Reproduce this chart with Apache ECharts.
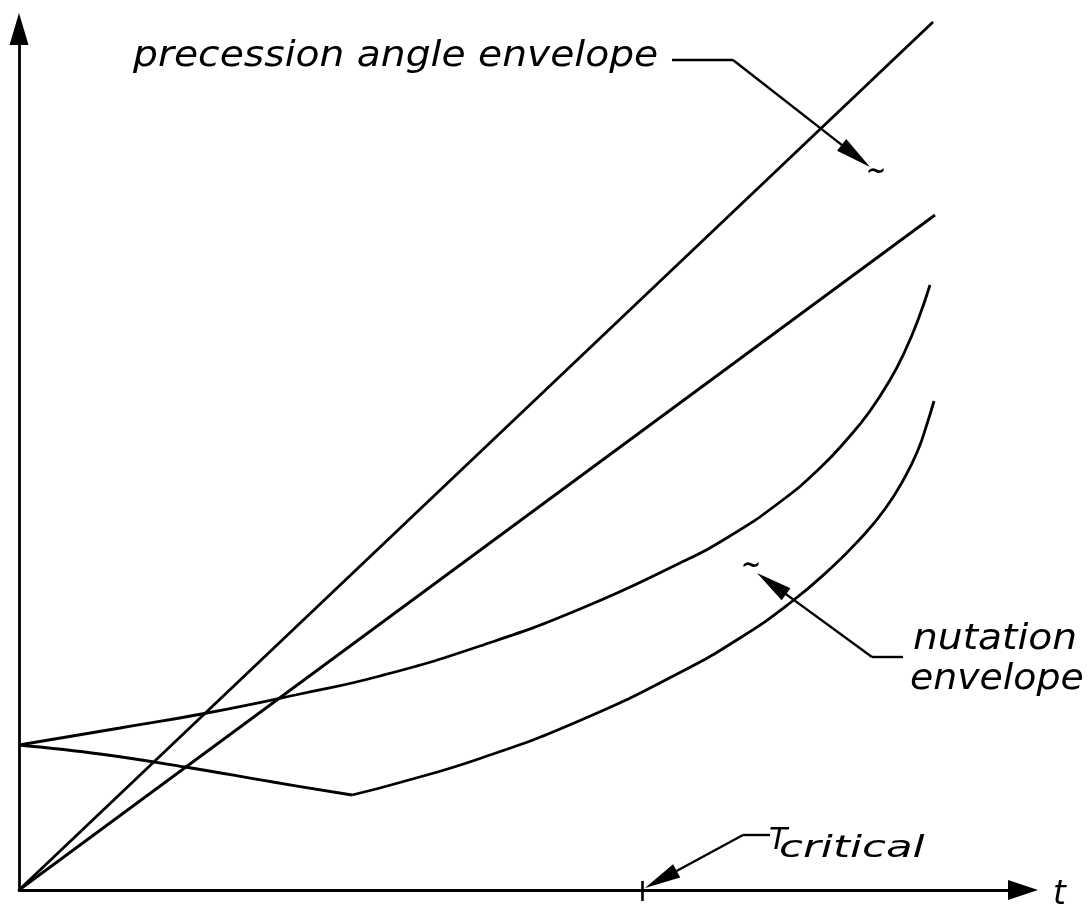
<!DOCTYPE html>
<html>
<head>
<meta charset="utf-8">
<title>Precession and nutation envelopes</title>
<script src="https://cdn.jsdelivr.net/npm/echarts@6.0.0/dist/echarts.min.js"></script>
<style>
  html, body { margin: 0; padding: 0; background: #fff; }
  #chart { width: 1091px; height: 911px; }
</style>
</head>
<body>
<div id="chart"></div>
<script>
// schematic: t along x, amplitude up y (no units, no tick labels)
const tMax = 100.4;
const yMax = 86.1;
const tCritical = 62.3;

// precession angle envelope, two straight rays from the origin
const precessionUpper = [[0, 0], [91.4, 86.8]];
const precessionLower = [[0, 0], [91.6, 67.5]];

// nutation envelope, upper branch
const nutationUpper = [
	[0, 14.5], [10.1, 16.2], [18.8, 17.7], [28.1, 19.6], [36.1, 21.4],
	[46.1, 24.4], [56.1, 28.1], [66.1, 32.7], [71.1, 35.4], [76.1, 38.8],
	[80.1, 42.2], [83.1, 45.4], [85.1, 47.9], [87.1, 51.0], [88.6, 53.9],
	[89.9, 57.0], [91.1, 60.5],
];

// nutation envelope, lower branch (dips first, then turns up)
const nutationLowerDip = [
	[0, 14.5], [8.1, 13.6], [16.6, 12.3], [25.4, 10.8], [33.3, 9.5],
];
const nutationLowerRise = [
	[33.3, 9.5], [38.1, 10.75], [46.1, 13.15], [56.1, 16.95], [66.1, 21.75],
	[72.1, 25.2], [77.1, 28.7], [81.1, 32.1], [84.1, 35.1], [86.6, 38.1],
	[88.6, 41.3], [89.9, 44.0], [90.8, 46.6], [91.5, 48.9],
];

// leader lines for the callouts: text end -> knee -> arrow tip
const leaders = [
	{ from: [65.3, 83.0], knee: [71.4, 83.0], tip: [85.1, 72.3] },
	{ from: [88.4, 23.3], knee: [85.3, 23.3], tip: [73.8, 31.7] },
	{ from: [75.1, 5.5], knee: [72.4, 5.5], tip: [62.6, 0.2] },
];

const ink = "#000";
const font = '"DejaVu Sans", "Liberation Sans", sans-serif';

// arrow symbols are centred on the end point, so stop the line half a head short
function pullBack(from, tip, d) {
	const dx = tip[0] - from[0];
	const dy = tip[1] - from[1];
	const len = Math.hypot(dx, dy);
	return [tip[0] - (dx / len) * d, tip[1] - (dy / len) * d];
}

const leaderLines = [];
leaders.forEach((l) => {
	leaderLines.push([{ coord: l.from }, { coord: l.knee }]);
	leaderLines.push([
		{ coord: l.knee },
		{ coord: pullBack(l.knee, l.tip, 1.8), symbol: "triangle", symbolSize: [15, 36] },
	]);
});

function curve(name, data, smooth) {
	return {
		name: name,
		type: "line",
		data: data,
		smooth: smooth,
		showSymbol: false,
		symbol: "none",
		clip: false,
		lineStyle: { color: ink, width: 2.8 },
		emphasis: { disabled: true },
	};
}

const chart = echarts.init(document.getElementById("chart"));

const axisLine = (size) => ({
	show: true,
	symbol: ["none", "triangle"],
	symbolSize: size,
	lineStyle: { color: ink, width: 2.8 },
});

const option = {
	animation: false,
	backgroundColor: "#fff",
	grid: { left: 19, right: 68, top: 29, bottom: 21 },
	xAxis: [
		{
			type: "value",
			min: 0,
			max: tMax,
			position: "bottom",
			axisLine: axisLine([20, 30]),
			axisTick: {
				show: true,
				customValues: [tCritical],
				length: 11,
				lineStyle: { color: ink, width: 2.6 },
			},
			axisLabel: { show: false },
			splitLine: { show: false },
		},
		{
			type: "value",
			min: 0,
			max: tMax,
			position: "bottom",
			axisLine: { show: false },
			axisTick: {
				show: true,
				inside: true,
				customValues: [tCritical],
				length: 9,
				lineStyle: { color: ink, width: 2.6 },
			},
			axisLabel: { show: false },
			splitLine: { show: false },
		},
	],
	yAxis: {
		type: "value",
		min: 0,
		max: yMax,
		axisLine: axisLine([19, 32]),
		axisTick: { show: false },
		axisLabel: { show: false },
		splitLine: { show: false },
	},
	series: [
		Object.assign(curve("precession upper", precessionUpper, false), {
			markLine: {
				silent: true,
				symbol: ["none", "none"],
				label: { show: false },
				lineStyle: { color: ink, width: 2.4, type: "solid" },
				emphasis: { disabled: true },
				data: leaderLines,
			},
		}),
		curve("precession lower", precessionLower, false),
		curve("nutation upper", nutationUpper, 0.5),
		curve("nutation lower dip", nutationLowerDip, 0.4),
		curve("nutation lower rise", nutationLowerRise, 0.5),
	],
	graphic: [
		{
			type: "text", x: 133, y: 57, scaleX: 1.12,
			style: { text: "precession angle envelope", fontFamily: font, fontStyle: "italic", fontSize: 35, fill: ink, align: "left", verticalAlign: "middle" },
		},
		{
			type: "text", x: 913, y: 640, scaleX: 1.12,
			style: { text: "nutation", fontFamily: font, fontStyle: "italic", fontSize: 35, fill: ink, align: "left", verticalAlign: "middle" },
		},
		{
			type: "text", x: 910, y: 680, scaleX: 1.08,
			style: { text: "envelope", fontFamily: font, fontStyle: "italic", fontSize: 35, fill: ink, align: "left", verticalAlign: "middle" },
		},
		{
			type: "text", x: 1053, y: 895,
			style: { text: "t", fontFamily: font, fontStyle: "italic", fontSize: 33, fill: ink, align: "left", verticalAlign: "middle" },
		},
		{
			type: "text", x: 769, y: 841,
			style: { text: "T", fontFamily: font, fontStyle: "italic", fontSize: 30, fill: ink, align: "left", verticalAlign: "middle" },
		},
		{
			type: "text", x: 779, y: 849, scaleX: 1.45,
			style: { text: "critical", fontFamily: font, fontStyle: "italic", fontSize: 30, fill: ink, align: "left", verticalAlign: "middle" },
		},
		{
			type: "text", x: 876, y: 173,
			style: { text: "~", fontFamily: font, fontSize: 24, fontWeight: "bold", fill: ink, align: "center", verticalAlign: "middle" },
		},
		{
			type: "text", x: 751, y: 567,
			style: { text: "~", fontFamily: font, fontSize: 24, fontWeight: "bold", fill: ink, align: "center", verticalAlign: "middle" },
		},
	],
};

chart.setOption(option);
</script>
</body>
</html>
